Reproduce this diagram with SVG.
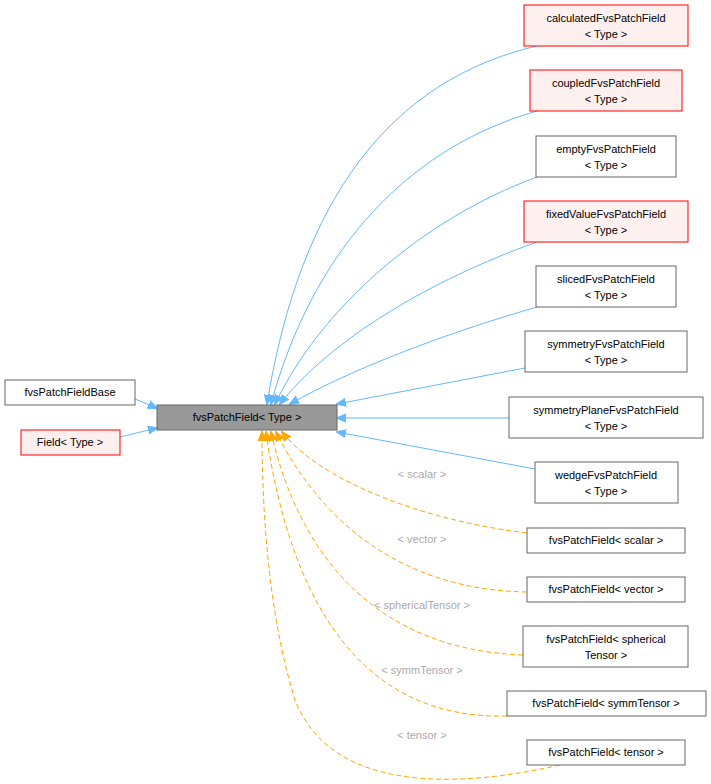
<svg xmlns="http://www.w3.org/2000/svg" width="711" height="784" viewBox="0 0 711 784">
<style>
text{font-family:"Liberation Sans",Arial,sans-serif;font-size:11px;text-anchor:middle}
.n{fill:#fff;stroke:#666}
.r{fill:#fff0f0;stroke:#ff0000}
.b{fill:none;stroke:#63b8ff}
.o{fill:none;stroke:#ffa500;stroke-dasharray:5,3}
.l{fill:#aaa}
</style>
<defs>
<marker id="ab" markerWidth="10" markerHeight="10" refX="9" refY="5" orient="auto" markerUnits="userSpaceOnUse"><path d="M0,1 L10,5 L0,9 z" fill="#63b8ff" stroke="#63b8ff"/></marker>
<marker id="ao" markerWidth="10" markerHeight="10" refX="9" refY="5" orient="auto" markerUnits="userSpaceOnUse"><path d="M0,1 L10,5 L0,9 z" fill="#ffa500" stroke="#ffa500"/></marker>
</defs>
<g id="edges">
<path class="b" marker-end="url(#ab)" d="M135,399 L157,408"/>
<path class="b" marker-end="url(#ab)" d="M120,437 L157,428"/>
<path class="b" marker-end="url(#ab)" d="M537,46 C390,80 300,200 267,404"/>
<path class="b" marker-end="url(#ab)" d="M537,111 C400,150 310,260 271,404"/>
<path class="b" marker-end="url(#ab)" d="M537,177 C420,220 320,310 275,404"/>
<path class="b" marker-end="url(#ab)" d="M537,242 C430,280 330,340 280,404"/>
<path class="b" marker-end="url(#ab)" d="M537,307 C440,335 350,370 290,404"/>
<path class="b" marker-end="url(#ab)" d="M525,368 L337,404"/>
<path class="b" marker-end="url(#ab)" d="M509,418 L337,418"/>
<path class="b" marker-end="url(#ab)" d="M535,469 L337,432"/>
<path class="o" marker-end="url(#ao)" d="M527,533 C420,520 320,480 282,432"/>
<path class="o" marker-end="url(#ao)" d="M527,592 C400,590 320,520 276,432"/>
<path class="o" marker-end="url(#ao)" d="M523,655 C380,650 300,560 271,432"/>
<path class="o" marker-end="url(#ao)" d="M507,716 C360,720 290,600 266,432"/>
<path class="o" marker-end="url(#ao)" d="M560,765 C450,790 330,790 295,700 C270,620 262,520 262,432"/>
<text class="l" x="422" y="478">&lt; scalar &gt;</text>
<text class="l" x="422" y="543">&lt; vector &gt;</text>
<text class="l" x="422" y="609">&lt; sphericalTensor &gt;</text>
<text class="l" x="422" y="674">&lt; symmTensor &gt;</text>
<text class="l" x="422" y="739">&lt; tensor &gt;</text>
</g>
<g id="center"><rect x="157" y="405" width="180" height="25" fill="#999" stroke="#666"/><text x="247" y="421">fvsPatchField&lt; Type &gt;</text></g>
<g id="base"><rect class="n" x="5" y="380" width="130" height="25"/><text x="70" y="396">fvsPatchFieldBase</text></g>
<g id="field"><rect class="r" x="21" y="430" width="99" height="25"/><text x="70" y="446">Field&lt; Type &gt;</text></g>
<g id="calc"><rect class="r" x="524" y="5" width="164" height="41"/><text x="606" y="22">calculatedFvsPatchField</text><text x="606" y="38">&lt; Type &gt;</text></g>
<g id="coupled"><rect class="r" x="530" y="70" width="152" height="41"/><text x="606" y="87">coupledFvsPatchField</text><text x="606" y="103">&lt; Type &gt;</text></g>
<g id="empty"><rect class="n" x="536" y="136" width="140" height="41"/><text x="606" y="153">emptyFvsPatchField</text><text x="606" y="169">&lt; Type &gt;</text></g>
<g id="fixed"><rect class="r" x="524" y="201" width="164" height="41"/><text x="606" y="218">fixedValueFvsPatchField</text><text x="606" y="234">&lt; Type &gt;</text></g>
<g id="sliced"><rect class="n" x="536" y="266" width="140" height="41"/><text x="606" y="283">slicedFvsPatchField</text><text x="606" y="299">&lt; Type &gt;</text></g>
<g id="sym"><rect class="n" x="525" y="331" width="162" height="41"/><text x="606" y="348">symmetryFvsPatchField</text><text x="606" y="364">&lt; Type &gt;</text></g>
<g id="symp"><rect class="n" x="509" y="397" width="194" height="41"/><text x="606" y="414">symmetryPlaneFvsPatchField</text><text x="606" y="430">&lt; Type &gt;</text></g>
<g id="wedge"><rect class="n" x="535" y="462" width="143" height="41"/><text x="606" y="479">wedgeFvsPatchField</text><text x="606" y="495">&lt; Type &gt;</text></g>
<g id="scalar"><rect class="n" x="527" y="528" width="158" height="25"/><text x="606" y="544">fvsPatchField&lt; scalar &gt;</text></g>
<g id="vector"><rect class="n" x="527" y="577" width="158" height="25"/><text x="606" y="593">fvsPatchField&lt; vector &gt;</text></g>
<g id="sph"><rect class="n" x="523" y="626" width="165" height="41"/><text x="606" y="643">fvsPatchField&lt; spherical</text><text x="606" y="659">Tensor &gt;</text></g>
<g id="symm"><rect class="n" x="507" y="691" width="199" height="25"/><text x="606" y="707">fvsPatchField&lt; symmTensor &gt;</text></g>
<g id="tensor"><rect class="n" x="527" y="740" width="158" height="25"/><text x="606" y="756">fvsPatchField&lt; tensor &gt;</text></g>
</svg>
